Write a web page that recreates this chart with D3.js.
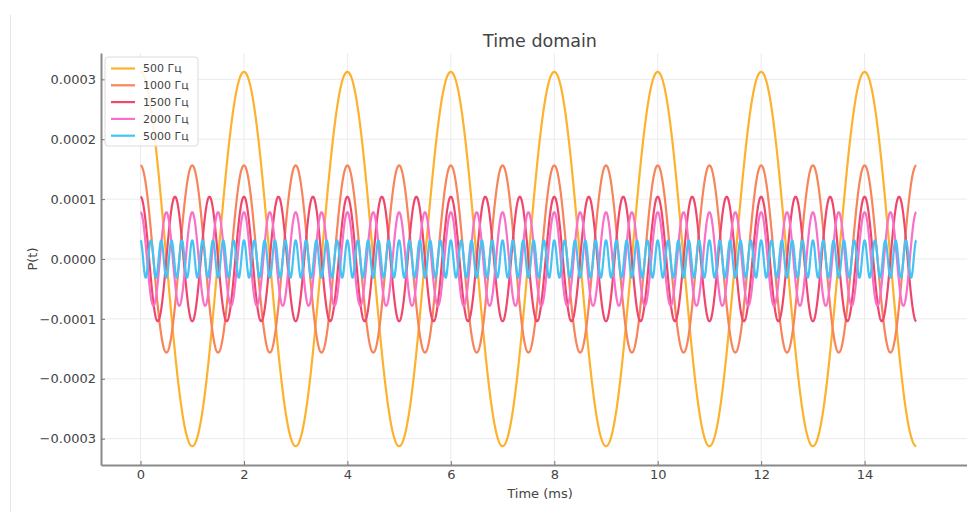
<!DOCTYPE html>
<html>
<head>
<meta charset="utf-8">
<script src="https://cdn.jsdelivr.net/npm/d3@7"></script>
<style>
  html, body { margin: 0; padding: 0; background: #fff; }
  svg { display: block; font-family: "DejaVu Sans", sans-serif; }
</style>
</head>
<body>
<svg id="chart" width="967" height="512"></svg>
<script>
// Tone series: frequency (Hz), peak pressure amplitude, legend label, colour
const frequencies = [500, 1000, 1500, 2000, 5000];
const amplitudes = [0.0003125, 0.00015625, 0.000104, 0.0000781, 0.00003125];
const seriesLabels = ["500 Гц", "1000 Гц", "1500 Гц", "2000 Гц", "5000 Гц"];
const seriesColors = ["#fdb22d", "#f7845a", "#ef476c", "#f870c8", "#45c3f4"];

// Time window in milliseconds and axis ticks
const timeRange = [0, 15];
const xTicks = [0, 2, 4, 6, 8, 10, 12, 14];
const yTicks = [-0.0003, -0.0002, -0.0001, 0, 0.0001, 0.0002, 0.0003];

const svg = d3.select("#chart");
const W = 967, H = 512;
const plot = { left: 101, right: 967, top: 53, bottom: 465 };

const x = d3.scaleLinear().domain([-0.764, 15.98]).range([plot.left, plot.right]);
const y = d3.scaleLinear().domain([-0.000344, 0.000344]).range([plot.bottom, plot.top]);

// thin frame line at the far left of the page
svg.append("line")
  .attr("x1", 10.5).attr("x2", 10.5).attr("y1", 15).attr("y2", H)
  .attr("stroke", "#e4e4e4").attr("stroke-width", 1);

// grid
const grid = svg.append("g");
grid.selectAll("line.gx").data(xTicks).join("line")
  .attr("x1", d => x(d)).attr("x2", d => x(d))
  .attr("y1", plot.top).attr("y2", plot.bottom)
  .attr("stroke", "#ebebeb").attr("stroke-width", 1);
grid.selectAll("line.gy").data(yTicks).join("line")
  .attr("x1", plot.left).attr("x2", plot.right)
  .attr("y1", d => y(d)).attr("y2", d => y(d))
  .attr("stroke", "#ebebeb").attr("stroke-width", 1);

// sample each tone over the time window
const step = 0.005;
const times = d3.range(timeRange[0], timeRange[1] + step / 2, step);
const series = frequencies.map((f, i) => ({
  label: seriesLabels[i],
  color: seriesColors[i],
  values: times.map(t => [t, amplitudes[i] * Math.cos(2 * Math.PI * f * t / 1000)])
}));

const line = d3.line().x(d => x(d[0])).y(d => y(d[1]));
svg.append("g").selectAll("path").data(series).join("path")
  .attr("d", d => line(d.values))
  .attr("fill", "none")
  .attr("stroke", d => d.color)
  .attr("stroke-width", 2.2)
  .attr("stroke-linejoin", "round");

// axes (ticks point inward)
const fmtY = v => {
  const s = Math.abs(v).toFixed(4);
  return v < -1e-12 ? "\u2212" + s : s;
};
const xAxis = svg.append("g")
  .attr("transform", `translate(0,${plot.bottom})`)
  .call(d3.axisBottom(x).tickValues(xTicks).tickSizeInner(-4).tickSizeOuter(0)
    .tickPadding(5).tickFormat(d3.format("d")));
const yAxis = svg.append("g")
  .attr("transform", `translate(${plot.left},0)`)
  .call(d3.axisLeft(y).tickValues(yTicks).tickSizeInner(-4).tickSizeOuter(0)
    .tickPadding(5).tickFormat(fmtY));

[xAxis, yAxis].forEach(a => {
  a.select(".domain").attr("stroke", "#8a8a8a").attr("stroke-width", 2);
  a.selectAll(".tick line").attr("stroke", "#777").attr("stroke-width", 1);
  a.selectAll(".tick text").attr("fill", "#444").attr("font-size", 13)
    .attr("font-family", "DejaVu Sans, sans-serif");
});

// titles
svg.append("text").attr("x", 540).attr("y", 47)
  .attr("text-anchor", "middle").attr("font-size", 17.5).attr("fill", "#444")
  .text("Time domain");
svg.append("text").attr("x", 540).attr("y", 498)
  .attr("text-anchor", "middle").attr("font-size", 13).attr("fill", "#444")
  .text("Time (ms)");
svg.append("text")
  .attr("transform", `translate(37,${y(0)}) rotate(-90)`)
  .attr("text-anchor", "middle").attr("font-size", 13).attr("fill", "#444")
  .text("P(t)");

// legend
const lg = svg.append("g").attr("transform", "translate(105,57)");
lg.append("rect").attr("width", 93).attr("height", 89).attr("rx", 3)
  .attr("fill", "rgba(255,255,255,0.85)").attr("stroke", "#dcdcdc");
const items = lg.selectAll("g.item").data(series).join("g")
  .attr("transform", (d, i) => `translate(0,${11.5 + i * 16.8})`);
items.append("line").attr("x1", 6).attr("x2", 30)
  .attr("stroke", d => d.color).attr("stroke-width", 2.2);
items.append("text").attr("x", 38).attr("dy", "0.35em")
  .attr("font-size", 11).attr("fill", "#444").text(d => d.label);
</script>
</body>
</html>
